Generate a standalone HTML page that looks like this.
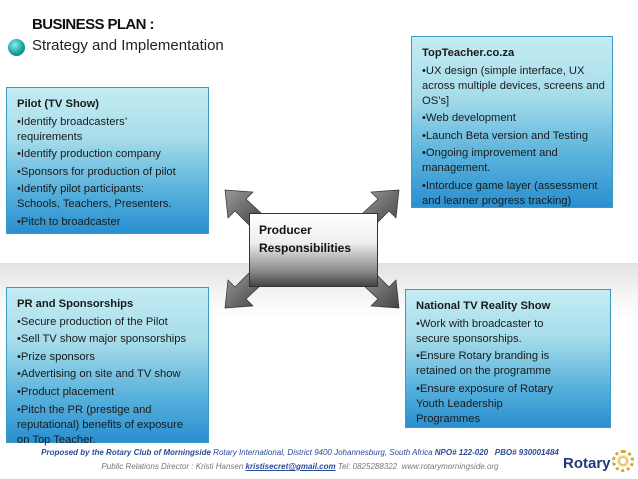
<!DOCTYPE html>
<html><head><style>
body{margin:0;width:638px;height:479px;position:relative;overflow:hidden;background:#fff;font-family:"Liberation Sans",sans-serif;}
.band{position:absolute;left:0;top:263px;width:638px;height:55px;background:linear-gradient(#e2e2e2,#f4f4f4 55%,#fff);}
.box{position:absolute;box-sizing:border-box;border:1px solid #3a9bc8;background:linear-gradient(#c4ecf3 0%,#a6dcea 35%,#59b2dc 70%,#2a8fd0 100%);color:#1a1a1a;font-size:11.2px;line-height:15px;padding:9px 0 0 10px;white-space:nowrap;}
.box p{margin:0 0 2.6px 0;}
.box b{font-weight:bold;}
.title1{position:absolute;left:32px;top:16px;font-weight:bold;font-size:15px;letter-spacing:-0.6px;color:#111;}
.title2{position:absolute;left:32px;top:37px;font-size:15px;color:#222;}
.ball{position:absolute;left:8px;top:39px;width:17px;height:17px;border-radius:50%;background:radial-gradient(circle at 40% 35%,#8ee,#19a0a0 55%,#066 100%);}
.center{position:absolute;left:249px;top:213px;width:129px;height:74px;box-sizing:border-box;border:1px solid #333;background:linear-gradient(#fff 0%,#eee 40%,#888 80%,#444 100%);font-weight:bold;font-size:12px;line-height:18px;padding:7px 0 0 9px;color:#111;}
.foot1{position:absolute;left:0;width:600px;text-align:center;top:448px;font-size:8px;font-style:italic;color:#2b4a9a;}
.foot2{position:absolute;left:0;width:600px;text-align:center;top:462px;font-size:8px;font-style:italic;color:#777;}
</style></head><body>
<div class="band"></div>
<div class="title1">BUSINESS PLAN :</div>
<div class="ball"></div>
<div class="title2">Strategy and Implementation</div>

<svg style="position:absolute;left:0;top:0" width="638" height="479">
<defs><linearGradient id="g" x1="0" y1="0" x2="1" y2="1"><stop offset="0" stop-color="#999"/><stop offset="1" stop-color="#444"/></linearGradient></defs>
<g fill="url(#g)" stroke="#333" stroke-width="0.7">
<polygon points="225,190 253,192 246,199 262,214 250,226 235,211 228,218"/>
<polygon points="399,190 371,192 378,199 362,214 374,226 389,211 396,218"/>
<polygon points="225,308 253,306 246,299 262,284 250,272 235,287 228,280"/>
<polygon points="399,308 371,306 378,299 362,284 374,272 389,287 396,280"/>
</g></svg>
<div class="center">Producer<br>Responsibilities</div>

<div class="box" style="left:6px;top:87px;width:203px;height:147px;">
<p><b>Pilot (TV Show)</b></p>
<p>•Identify broadcasters’<br>requirements</p>
<p>•Identify production company</p>
<p>•Sponsors for production of pilot</p>
<p>•Identify pilot participants:<br>Schools, Teachers, Presenters.</p>
<p>•Pitch to broadcaster</p>
</div>

<div class="box" style="left:411px;top:36px;width:202px;height:172px;">
<p><b>TopTeacher.co.za</b></p>
<p>•UX design (simple interface, UX<br>across multiple devices, screens and<br>OS’s]</p>
<p>•Web development</p>
<p>•Launch Beta version and Testing</p>
<p>•Ongoing improvement and<br>management.</p>
<p>•Intorduce game layer (assessment<br>and learner progress tracking)</p>
</div>

<div class="box" style="left:6px;top:287px;width:203px;height:156px;">
<p><b>PR and Sponsorships</b></p>
<p>•Secure production of the Pilot</p>
<p>•Sell TV show major sponsorships</p>
<p>•Prize sponsors</p>
<p>•Advertising on site and TV show</p>
<p>•Product placement</p>
<p>•Pitch the PR (prestige and<br>reputational) benefits of exposure<br>on Top Teacher.</p>
</div>

<div class="box" style="left:405px;top:289px;width:206px;height:139px;">
<p><b>National TV Reality Show</b></p>
<p>•Work with broadcaster to<br>secure sponsorships.</p>
<p>•Ensure Rotary branding is<br>retained on the programme</p>
<p>•Ensure exposure of Rotary<br>Youth Leadership<br>Programmes</p>
</div>

<div class="foot1"><b>Proposed by the Rotary Club of Morningside</b> Rotary International, District 9400 Johannesburg, South Africa <b>NPO# 122-020 &nbsp; PBO# 930001484</b></div>
<div class="foot2">Public Relations Director : Kristi Hansen <u style="color:#2b4a9a;font-weight:bold">kristisecret@gmail.com</u> Tel: 0825288322 &nbsp;www.rotarymorningside.org</div>
<div style="position:absolute;left:563px;top:455px;font-weight:bold;font-size:15px;color:#1e3a7a;">Rotary</div>
<div style="position:absolute;left:612px;top:450px;width:22px;height:22px;border-radius:50%;border:3px dotted #d8a82a;box-sizing:border-box;background:radial-gradient(#fff 25%,#e3b845 30%,#fff 60%);"></div>
</body></html>
